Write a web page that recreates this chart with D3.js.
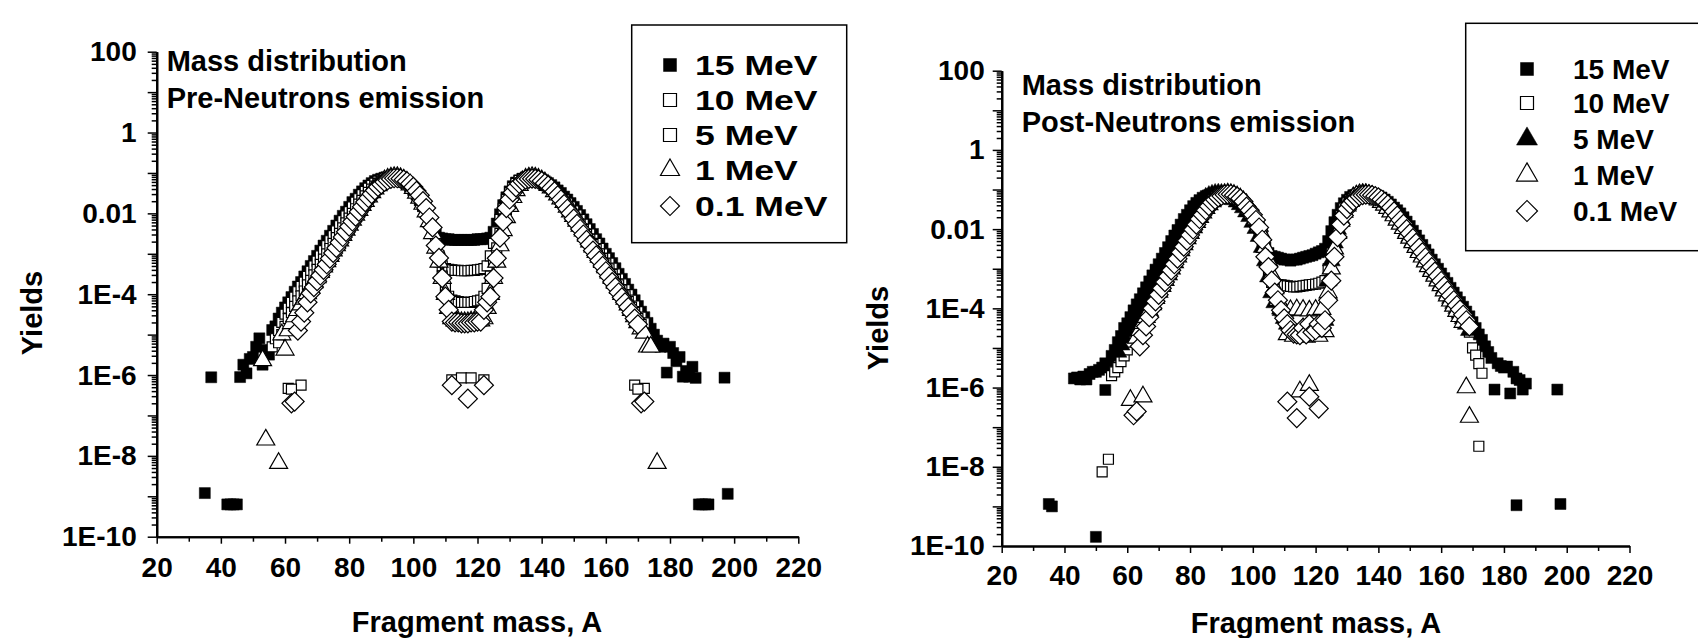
<!DOCTYPE html>
<html>
<head>
<meta charset="utf-8">
<script src="https://cdn.jsdelivr.net/npm/d3@7"></script>
<style>
  body { margin: 0; background: #fff; }
  text { font-family: "Liberation Sans", Arial, sans-serif; font-weight: bold; fill: #000; }
</style>
</head>
<body>
<svg id="chart" width="1698" height="638"></svg>
<script>
const energies = ["15 MeV", "10 MeV", "5 MeV", "1 MeV", "0.1 MeV"];
const xTicks = [20, 40, 60, 80, 100, 120, 140, 160, 180, 200, 220];
const xMinorTicks = [30, 50, 70, 90, 110, 130, 150, 170, 190, 210];
const yTicks = [1e-10, 1e-8, 1e-6, 1e-4, 1e-2, 1, 100];
const yTickLabels = ["1E-10", "1E-8", "1E-6", "1E-4", "0.01", "1", "100"];
const yOddDecades = [1e-9, 1e-7, 1e-5, 1e-3, 0.1, 10];

// pre-neutron emission, [mass A, yield]
const pre15 = [[35,1.2e-9],[37,8.8e-7],[42,6.3e-10],[43,6.3e-10],[44,6.3e-10],[45,6.3e-10],[46,8.9e-7],[47,1.8e-6],[48,1.1e-6],[49,2.5e-6],[50,2.8e-6],[51,5e-6],[52,8.1e-6],[53,1.8e-6],[54,4.2e-6],[55,3.2e-6],[56,1.3e-5],[57,1.6e-5],[58,2.5e-5],[59,3.5e-5],[60,4.7e-5],[61,6.3e-5],[62,8.5e-5],[63,1.15e-4],[64,1.55e-4],[65,2e-4],[66,2.75e-4],[67,3.7e-4],[68,5e-4],[69,6.6e-4],[70,8.9e-4],[71,1.2e-3],[72,1.6e-3],[73,2.1e-3],[74,2.8e-3],[75,3.7e-3],[76,5e-3],[77,6.6e-3],[78,8.7e-3],[79,1.1e-2],[80,1.45e-2],[81,1.9e-2],[82,2.3e-2],[83,2.9e-2],[84,3.5e-2],[85,4.2e-2],[86,4.9e-2],[87,5.6e-2],[88,6.3e-2],[89,6.8e-2],[90,7.2e-2],[91,7.6e-2],[92,7.8e-2],[93,7.8e-2],[94,7.6e-2],[95,7.2e-2],[96,6.8e-2],[97,6.2e-2],[98,5.4e-2],[99,4.6e-2],[100,3.7e-2],[101,2.9e-2],[102,2.1e-2],[103,1.5e-2],[104,1e-2],[105,6.6e-3],[106,4.2e-3],[107,3e-3],[108,2.5e-3],[109,2.4e-3],[110,2.3e-3],[111,2.3e-3],[112,2.2e-3],[113,2.2e-3],[114,2.2e-3],[115,2.2e-3],[116,2.2e-3],[117,2.2e-3],[118,2.2e-3],[119,2.2e-3],[120,2.3e-3],[121,2.3e-3],[122,2.3e-3],[123,2.4e-3],[124,2.5e-3],[125,3.5e-3],[126,5.6e-3],[127,9.5e-3],[128,1.6e-2],[129,2.5e-2],[130,3.5e-2],[131,4.7e-2],[132,5.8e-2],[133,6.6e-2],[134,7.2e-2],[135,7.6e-2],[136,7.8e-2],[137,7.8e-2],[138,7.6e-2],[139,7.2e-2],[140,6.8e-2],[141,6.2e-2],[142,5.6e-2],[143,5e-2],[144,4.4e-2],[145,3.7e-2],[146,3.2e-2],[147,2.6e-2],[148,2.2e-2],[149,1.8e-2],[150,1.45e-2],[151,1.15e-2],[152,9.1e-3],[153,7.1e-3],[154,5.4e-3],[155,4.1e-3],[156,3.1e-3],[157,2.3e-3],[158,1.8e-3],[159,1.35e-3],[160,1e-3],[161,7.8e-4],[162,5.9e-4],[163,4.4e-4],[164,3.2e-4],[165,2.4e-4],[166,1.8e-4],[167,1.3e-4],[168,9.8e-5],[169,7.1e-5],[170,5.1e-5],[171,3.7e-5],[172,2.7e-5],[173,1.95e-5],[174,1.4e-5],[175,1e-5],[176,7.1e-6],[177,5e-6],[178,6e-6],[179,1.15e-6],[180,5e-6],[181,3.5e-6],[182,2.2e-6],[183,2.8e-6],[184,9.1e-7],[185,1.26e-6],[186,9.1e-7],[187,1.6e-6],[188,8.5e-7],[189,6.3e-10],[190,6.3e-10],[191,6.3e-10],[192,6.3e-10],[197,8.6e-7],[198,1.15e-9]];
const pre10 = [[61,4.7e-7],[65,5.6e-7],[169,5.6e-7],[172,4.7e-7],[56,5e-6],[57,7.9e-6],[58,1.26e-5],[59,2e-5],[60,3.2e-5],[61,4.5e-5],[62,6.3e-5],[63,8.5e-5],[64,1.15e-4],[65,1.55e-4],[66,2e-4],[67,2.75e-4],[68,3.7e-4],[69,5e-4],[70,6.6e-4],[71,8.9e-4],[72,1.2e-3],[73,1.6e-3],[74,2.1e-3],[75,2.8e-3],[76,3.7e-3],[77,5e-3],[78,6.6e-3],[79,8.7e-3],[80,1.1e-2],[81,1.45e-2],[82,1.9e-2],[83,2.3e-2],[84,2.9e-2],[85,3.5e-2],[86,4.2e-2],[87,4.9e-2],[88,5.6e-2],[89,6.3e-2],[90,6.9e-2],[91,7.4e-2],[92,7.8e-2],[93,7.9e-2],[94,7.8e-2],[95,7.4e-2],[96,6.9e-2],[97,6.3e-2],[98,5.5e-2],[99,4.7e-2],[100,3.8e-2],[101,3e-2],[102,2.2e-2],[103,1.5e-2],[104,1e-2],[105,6.3e-3],[106,3.5e-3],[107,1.8e-3],[108,8.9e-4],[109,5e-4],[110,4.3e-4],[111,4.1e-4],[112,4e-4],[113,3.9e-4],[114,3.9e-4],[115,3.8e-4],[116,3.8e-4],[117,3.8e-4],[118,3.9e-4],[119,3.9e-4],[120,4e-4],[121,4.1e-4],[122,4.3e-4],[123,5e-4],[124,8.9e-4],[125,1.8e-3],[126,3.5e-3],[127,7.1e-3],[128,1.3e-2],[129,2.2e-2],[130,3.2e-2],[131,4.4e-2],[132,5.5e-2],[133,6.5e-2],[134,7.2e-2],[135,7.8e-2],[136,7.9e-2],[137,7.8e-2],[138,7.4e-2],[139,6.9e-2],[140,6.3e-2],[141,5.6e-2],[142,5e-2],[143,4.4e-2],[144,3.7e-2],[145,3.2e-2],[146,2.6e-2],[147,2.2e-2],[148,1.8e-2],[149,1.45e-2],[150,1.15e-2],[151,9.1e-3],[152,7.1e-3],[153,5.4e-3],[154,4.1e-3],[155,3.1e-3],[156,2.3e-3],[157,1.8e-3],[158,1.35e-3],[159,1e-3],[160,7.8e-4],[161,5.9e-4],[162,4.4e-4],[163,3.2e-4],[164,2.4e-4],[165,1.8e-4],[166,1.3e-4],[167,9.8e-5],[168,7.1e-5],[169,5.1e-5],[170,3.7e-5],[171,2.7e-5],[172,1.95e-5]];
const pre5 = [[62,4.5e-7],[170,4.5e-7],[112,7.6e-7],[115,8.5e-7],[118,8.5e-7],[122,7.6e-7],[58,6.3e-6],[59,1e-5],[60,1.6e-5],[61,2.5e-5],[62,3.5e-5],[63,5e-5],[64,6.8e-5],[65,9.1e-5],[66,1.2e-4],[67,1.7e-4],[68,2.2e-4],[69,3e-4],[70,4.1e-4],[71,5.5e-4],[72,7.4e-4],[73,1e-3],[74,1.35e-3],[75,1.8e-3],[76,2.5e-3],[77,3.2e-3],[78,4.4e-3],[79,5.8e-3],[80,7.6e-3],[81,1e-2],[82,1.3e-2],[83,1.7e-2],[84,2.1e-2],[85,2.7e-2],[86,3.3e-2],[87,4e-2],[88,4.7e-2],[89,5.5e-2],[90,6.3e-2],[91,6.9e-2],[92,7.4e-2],[93,7.8e-2],[94,7.8e-2],[95,7.6e-2],[96,7.1e-2],[97,6.5e-2],[98,5.6e-2],[99,4.8e-2],[100,3.9e-2],[101,3e-2],[102,2.2e-2],[103,1.55e-2],[104,1e-2],[105,6e-3],[106,3.2e-3],[107,1.4e-3],[108,6.3e-4],[109,2.8e-4],[110,1.4e-4],[111,8.9e-5],[112,7.1e-5],[113,6.8e-5],[114,6.6e-5],[115,6.3e-5],[116,6.3e-5],[117,6.3e-5],[118,6.3e-5],[119,6.6e-5],[120,6.8e-5],[121,7.1e-5],[122,8.9e-5],[123,1.4e-4],[124,2.8e-4],[125,6.3e-4],[126,1.4e-3],[127,3.2e-3],[128,6.6e-3],[129,1.26e-2],[130,2.1e-2],[131,3.2e-2],[132,4.3e-2],[133,5.4e-2],[134,6.3e-2],[135,7.1e-2],[136,7.6e-2],[137,7.8e-2],[138,7.6e-2],[139,7.1e-2],[140,6.5e-2],[141,5.8e-2],[142,5e-2],[143,4.3e-2],[144,3.5e-2],[145,3e-2],[146,2.4e-2],[147,1.9e-2],[148,1.5e-2],[149,1.2e-2],[150,9.1e-3],[151,6.9e-3],[152,5.2e-3],[153,4e-3],[154,3e-3],[155,2.3e-3],[156,1.7e-3],[157,1.3e-3],[158,1e-3],[159,7.6e-4],[160,5.6e-4],[161,4.2e-4],[162,3.1e-4],[163,2.3e-4],[164,1.7e-4],[165,1.26e-4],[166,9.1e-5],[167,6.6e-5],[168,4.8e-5],[169,3.5e-5],[170,2.5e-5],[171,1.8e-5]];
const pre1 = [[53,2.3e-6],[54,2.5e-8],[58,6.6e-9],[59,1e-5],[60,4.2e-6],[61,1.26e-5],[62,1.9e-5],[63,2.8e-5],[64,4e-5],[65,5.5e-5],[66,7.6e-5],[67,1.05e-4],[68,1.45e-4],[69,1.95e-4],[70,2.6e-4],[71,3.5e-4],[72,4.8e-4],[73,6.5e-4],[74,8.7e-4],[75,1.2e-3],[76,1.6e-3],[77,2.1e-3],[78,2.9e-3],[79,3.9e-3],[80,5.2e-3],[81,6.9e-3],[82,9.1e-3],[83,1.2e-2],[84,1.6e-2],[85,2e-2],[86,2.6e-2],[87,3.3e-2],[88,4.1e-2],[89,4.9e-2],[90,5.8e-2],[91,6.5e-2],[92,7.1e-2],[93,7.6e-2],[94,7.8e-2],[95,7.8e-2],[96,7.4e-2],[97,6.8e-2],[98,6e-2],[99,5.1e-2],[100,4.2e-2],[101,3.2e-2],[102,2.4e-2],[103,1.7e-2],[104,1.1e-2],[105,6.3e-3],[106,3.2e-3],[107,1.4e-3],[108,6.3e-4],[109,2.5e-4],[110,1e-4],[111,4.5e-5],[112,2.5e-5],[113,2.2e-5],[114,2.1e-5],[115,2e-5],[116,2e-5],[117,2e-5],[118,2.1e-5],[119,2.1e-5],[120,2.2e-5],[121,2.2e-5],[122,2.5e-5],[123,4.5e-5],[124,1e-4],[125,2.5e-4],[126,6.3e-4],[127,1.6e-3],[128,3.8e-3],[129,7.9e-3],[130,1.5e-2],[131,2.5e-2],[132,3.7e-2],[133,5e-2],[134,6.2e-2],[135,7.1e-2],[136,7.6e-2],[137,7.8e-2],[138,7.6e-2],[139,7.1e-2],[140,6.5e-2],[141,5.8e-2],[142,5e-2],[143,4.3e-2],[144,3.5e-2],[145,2.9e-2],[146,2.3e-2],[147,1.9e-2],[148,1.45e-2],[149,1.1e-2],[150,8.5e-3],[151,6.5e-3],[152,4.9e-3],[153,3.7e-3],[154,2.75e-3],[155,2e-3],[156,1.5e-3],[157,1.1e-3],[158,8.3e-4],[159,6.2e-4],[160,4.6e-4],[161,3.4e-4],[162,2.5e-4],[163,1.9e-4],[164,1.4e-4],[165,1e-4],[166,7.6e-5],[167,5.5e-5],[168,4e-5],[169,2.8e-5],[170,2e-5],[171,1.4e-5],[172,1.1e-5],[173,5e-6],[174,5e-6],[176,6.6e-9]];
const pre01 = [[62,2e-7],[63,2.2e-7],[112,5.6e-7],[117,2.6e-7],[122,5.6e-7],[171,2e-7],[172,2.2e-7],[64,1.26e-5],[65,2.1e-5],[66,3.5e-5],[67,6.3e-5],[68,1.05e-4],[69,1.5e-4],[70,2.1e-4],[71,2.9e-4],[72,4e-4],[73,5.5e-4],[74,7.6e-4],[75,1.05e-3],[76,1.4e-3],[77,1.9e-3],[78,2.6e-3],[79,3.5e-3],[80,4.7e-3],[81,6.3e-3],[82,8.3e-3],[83,1.1e-2],[84,1.45e-2],[85,1.9e-2],[86,2.4e-2],[87,3e-2],[88,3.7e-2],[89,4.5e-2],[90,5.2e-2],[91,6e-2],[92,6.6e-2],[93,7.1e-2],[94,7.4e-2],[95,7.4e-2],[96,7.2e-2],[97,6.8e-2],[98,6.2e-2],[99,5.4e-2],[100,4.5e-2],[101,3.6e-2],[102,2.8e-2],[103,2e-2],[104,1.35e-2],[105,7.9e-3],[106,4.5e-3],[107,1.6e-3],[108,7.9e-4],[109,2.5e-4],[110,8.7e-5],[111,4.1e-5],[112,2.1e-5],[113,2e-5],[114,2e-5],[115,1.9e-5],[116,1.9e-5],[117,1.9e-5],[118,2e-5],[119,2e-5],[120,2.1e-5],[121,2.1e-5],[122,4.1e-5],[123,6.3e-5],[124,8.7e-5],[125,2.5e-4],[126,7.8e-4],[127,2.5e-3],[128,6.3e-3],[129,1.35e-2],[130,2.2e-2],[131,3.3e-2],[132,4.4e-2],[133,5.4e-2],[134,6.2e-2],[135,6.8e-2],[136,7.1e-2],[137,7.2e-2],[138,7.1e-2],[139,6.8e-2],[140,6.3e-2],[141,5.6e-2],[142,4.9e-2],[143,4.2e-2],[144,3.5e-2],[145,2.8e-2],[146,2.2e-2],[147,1.7e-2],[148,1.3e-2],[149,1e-2],[150,7.4e-3],[151,5.5e-3],[152,4.1e-3],[153,3e-3],[154,2.2e-3],[155,1.7e-3],[156,1.2e-3],[157,9.1e-4],[158,6.8e-4],[159,5e-4],[160,3.7e-4],[161,2.75e-4],[162,2e-4],[163,1.5e-4],[164,1.1e-4],[165,8.3e-5],[166,6.3e-5],[167,4.8e-5],[168,3.5e-5],[169,2.5e-5],[170,1.8e-5]];

// post-neutron emission, [mass A, yield]
const post15 = [[35,1.15e-9],[36,1e-9],[50,1.7e-10],[53,8.7e-7],[184,1.07e-9],[198,1.15e-9],[43,1.7e-6],[44,1.8e-6],[45,1.6e-6],[46,1.9e-6],[47,1.6e-6],[48,2.2e-6],[49,2.5e-6],[50,2.5e-6],[51,2.8e-6],[52,3.2e-6],[53,4.1e-6],[54,3.5e-6],[55,6.3e-6],[56,8.9e-6],[57,1.4e-5],[58,2e-5],[59,3.2e-5],[60,4.2e-5],[61,6e-5],[62,8.9e-5],[63,1.26e-4],[64,1.7e-4],[65,2.4e-4],[66,3.4e-4],[67,4.8e-4],[68,6.8e-4],[69,9.5e-4],[70,1.3e-3],[71,1.8e-3],[72,2.5e-3],[73,3.5e-3],[74,5e-3],[75,6.9e-3],[76,9.5e-3],[77,1.3e-2],[78,1.8e-2],[79,2.3e-2],[80,3e-2],[81,3.8e-2],[82,4.6e-2],[83,5.4e-2],[84,6.2e-2],[85,6.8e-2],[86,7.2e-2],[87,7.6e-2],[88,7.9e-2],[89,8.1e-2],[90,8.1e-2],[91,7.9e-2],[92,7.6e-2],[93,7.1e-2],[94,6.5e-2],[95,5.8e-2],[96,5e-2],[97,4.4e-2],[98,3.6e-2],[99,2.9e-2],[100,2.2e-2],[101,1.6e-2],[102,1.05e-2],[103,6.3e-3],[104,3.5e-3],[105,2.5e-3],[106,2.1e-3],[107,2e-3],[108,1.9e-3],[109,1.8e-3],[110,1.7e-3],[111,1.7e-3],[112,1.6e-3],[113,1.7e-3],[114,1.7e-3],[115,1.8e-3],[116,1.9e-3],[117,2e-3],[118,2.1e-3],[119,2.2e-3],[120,2.4e-3],[121,2.6e-3],[122,2.8e-3],[123,3.2e-3],[124,5e-3],[125,8.9e-3],[126,1.5e-2],[127,2.3e-2],[128,3.4e-2],[129,4.5e-2],[130,5.5e-2],[131,6.5e-2],[132,7.2e-2],[133,7.4e-2],[134,7.8e-2],[135,7.9e-2],[136,7.9e-2],[137,7.9e-2],[138,7.8e-2],[139,7.4e-2],[140,6.9e-2],[141,6.3e-2],[142,5.6e-2],[143,4.9e-2],[144,4.2e-2],[145,3.5e-2],[146,3e-2],[147,2.5e-2],[148,2e-2],[149,1.55e-2],[150,1.2e-2],[151,9.1e-3],[152,6.9e-3],[153,5.2e-3],[154,4e-3],[155,3e-3],[156,2.3e-3],[157,1.7e-3],[158,1.3e-3],[159,1e-3],[160,7.6e-4],[161,5.8e-4],[162,4.4e-4],[163,3.3e-4],[164,2.5e-4],[165,1.9e-4],[166,1.45e-4],[167,1.1e-4],[168,8.3e-5],[169,6.3e-5],[170,4.5e-5],[171,3.2e-5],[172,2.2e-5],[173,1.6e-5],[174,1.1e-5],[175,7.9e-6],[176,5.6e-6],[177,8.9e-7],[178,4.1e-6],[179,3.5e-6],[180,3.2e-6],[181,3.4e-6],[182,7.1e-7],[183,2.5e-6],[184,1.7e-6],[185,1.55e-6],[186,8.9e-7],[187,1.26e-6],[197,8.9e-7]];
const post10 = [[52,7.4e-9],[54,1.55e-8],[172,3.3e-8],[55,2e-6],[56,2.5e-6],[57,3.2e-6],[58,4.5e-6],[59,6.3e-6],[60,8.9e-6],[61,1.4e-5],[62,2e-5],[63,2.8e-5],[64,4e-5],[65,5.6e-5],[66,7.9e-5],[67,1.1e-4],[68,1.6e-4],[69,2.2e-4],[70,3.2e-4],[71,4.5e-4],[72,6.3e-4],[73,8.9e-4],[74,1.26e-3],[75,1.8e-3],[76,2.5e-3],[77,3.5e-3],[78,5e-3],[79,6.9e-3],[80,9.5e-3],[81,1.3e-2],[82,1.7e-2],[83,2.3e-2],[84,3e-2],[85,3.7e-2],[86,4.6e-2],[87,5.4e-2],[88,6.2e-2],[89,6.9e-2],[90,7.4e-2],[91,7.8e-2],[92,7.8e-2],[93,7.6e-2],[94,7.2e-2],[95,6.6e-2],[96,5.8e-2],[97,4.8e-2],[98,3.8e-2],[99,2.9e-2],[100,2.1e-2],[101,1.4e-2],[102,8.9e-3],[103,5e-3],[104,2.2e-3],[105,8.9e-4],[106,4.5e-4],[107,4.2e-4],[108,4e-4],[109,3.9e-4],[110,3.8e-4],[111,3.7e-4],[112,3.6e-4],[113,3.5e-4],[114,3.5e-4],[115,3.6e-4],[116,3.7e-4],[117,3.8e-4],[118,3.9e-4],[119,4e-4],[120,4.1e-4],[121,4.3e-4],[122,4.6e-4],[123,5e-4],[124,1e-3],[125,2.5e-3],[126,6.3e-3],[127,1.26e-2],[128,2.2e-2],[129,3.4e-2],[130,4.6e-2],[131,5.6e-2],[132,6.6e-2],[133,7.2e-2],[134,7.6e-2],[135,7.8e-2],[136,7.6e-2],[137,7.4e-2],[138,7.1e-2],[139,6.6e-2],[140,6e-2],[141,5.4e-2],[142,4.7e-2],[143,4e-2],[144,3.3e-2],[145,2.75e-2],[146,2.2e-2],[147,1.8e-2],[148,1.4e-2],[149,1.1e-2],[150,8.5e-3],[151,6.5e-3],[152,4.9e-3],[153,3.7e-3],[154,2.8e-3],[155,2.1e-3],[156,1.6e-3],[157,1.2e-3],[158,9.3e-4],[159,7.1e-4],[160,5.4e-4],[161,4.1e-4],[162,3.1e-4],[163,2.3e-4],[164,1.8e-4],[165,1.35e-4],[166,1e-4],[167,7.8e-5],[168,5.6e-5],[169,2.5e-5],[170,1e-5],[171,6.6e-6],[172,4e-6],[173,2.3e-6]];
const post5 = [[57,7.9e-6],[58,1.2e-5],[59,1.8e-5],[60,2.6e-5],[61,3.8e-5],[62,5.5e-5],[63,7.9e-5],[64,1.1e-4],[65,1.6e-4],[66,2.2e-4],[67,3.2e-4],[68,4.5e-4],[69,6.3e-4],[70,8.9e-4],[71,1.26e-3],[72,1.8e-3],[73,2.5e-3],[74,3.5e-3],[75,4.9e-3],[76,6.8e-3],[77,9.3e-3],[78,1.26e-2],[79,1.7e-2],[80,2.2e-2],[81,2.9e-2],[82,3.6e-2],[83,4.5e-2],[84,5.4e-2],[85,6.2e-2],[86,6.9e-2],[87,7.4e-2],[88,7.8e-2],[89,7.9e-2],[90,7.8e-2],[91,7.4e-2],[92,6.9e-2],[93,6.3e-2],[94,5.6e-2],[95,4.9e-2],[96,4.2e-2],[97,3.5e-2],[98,2.75e-2],[99,2.1e-2],[100,1.5e-2],[101,1.05e-2],[102,6.6e-3],[103,3.5e-3],[104,1.6e-3],[105,6.3e-4],[106,2.5e-4],[107,1.4e-4],[108,1.6e-4],[109,8.9e-5],[110,5.6e-5],[111,4e-5],[112,2.8e-5],[113,2.3e-5],[114,2.2e-5],[115,2.1e-5],[116,3.2e-5],[117,2.2e-5],[118,4e-5],[119,2.5e-5],[120,2.8e-5],[121,4e-5],[122,3.2e-5],[123,5e-5],[124,5e-4],[125,1.6e-3],[126,4.5e-3],[127,1e-2],[128,1.9e-2],[129,3e-2],[130,4.3e-2],[131,5.5e-2],[132,6.5e-2],[133,7.2e-2],[134,7.6e-2],[135,7.8e-2],[136,7.8e-2],[137,7.4e-2],[138,6.9e-2],[139,6.3e-2],[140,5.6e-2],[141,4.9e-2],[142,4.2e-2],[143,3.5e-2],[144,2.8e-2],[145,2.3e-2],[146,1.8e-2],[147,1.4e-2],[148,1.1e-2],[149,8.5e-3],[150,6.5e-3],[151,4.9e-3],[152,3.7e-3],[153,2.8e-3],[154,2.1e-3],[155,1.6e-3],[156,1.2e-3],[157,9.3e-4],[158,7.1e-4],[159,5.4e-4],[160,4.1e-4],[161,3.1e-4],[162,2.3e-4],[163,1.8e-4],[164,1.35e-4],[165,1e-4],[166,7.6e-5],[167,5.5e-5],[168,4e-5],[169,2.8e-5]];
const post1 = [[61,4.8e-7],[65,5.9e-7],[115,7.9e-7],[118,1.15e-6],[168,1e-6],[169,1.8e-7],[63,1.8e-5],[64,2.8e-5],[65,4.2e-5],[66,6e-5],[67,8.7e-5],[68,1.26e-4],[69,1.8e-4],[70,2.6e-4],[71,3.6e-4],[72,5.1e-4],[73,7.2e-4],[74,1e-3],[75,1.45e-3],[76,2e-3],[77,2.9e-3],[78,4.1e-3],[79,5.8e-3],[80,7.9e-3],[81,1.1e-2],[82,1.5e-2],[83,2e-2],[84,2.6e-2],[85,3.4e-2],[86,4.2e-2],[87,5e-2],[88,5.9e-2],[89,6.6e-2],[90,7.2e-2],[91,7.6e-2],[92,7.8e-2],[93,7.6e-2],[94,7.2e-2],[95,6.6e-2],[96,5.9e-2],[97,5e-2],[98,4.2e-2],[99,3.3e-2],[100,2.5e-2],[101,1.8e-2],[102,1.2e-2],[103,7.1e-3],[104,3.5e-3],[105,1.6e-3],[106,7.1e-4],[107,3.2e-4],[108,1.6e-4],[109,1e-4],[110,8.7e-5],[111,2.2e-5],[112,8.9e-5],[113,2e-5],[114,9.3e-5],[115,2.2e-5],[116,9.1e-5],[117,1.9e-5],[118,8.7e-5],[119,2.3e-5],[120,9.1e-5],[121,2e-5],[122,9.5e-5],[123,2.6e-5],[124,2.5e-4],[125,1e-3],[126,3.2e-3],[127,7.9e-3],[128,1.6e-2],[129,2.7e-2],[130,3.9e-2],[131,5.1e-2],[132,6.2e-2],[133,6.9e-2],[134,7.4e-2],[135,7.6e-2],[136,7.6e-2],[137,7.2e-2],[138,6.8e-2],[139,6.2e-2],[140,5.5e-2],[141,4.8e-2],[142,4.1e-2],[143,3.4e-2],[144,2.75e-2],[145,2.2e-2],[146,1.7e-2],[147,1.35e-2],[148,1.05e-2],[149,7.9e-3],[150,6e-3],[151,4.6e-3],[152,3.5e-3],[153,2.6e-3],[154,2e-3],[155,1.5e-3],[156,1.15e-3],[157,8.7e-4],[158,6.6e-4],[159,5e-4],[160,3.8e-4],[161,2.8e-4],[162,2.1e-4],[163,1.55e-4],[164,1.15e-4],[165,8.5e-5],[166,6.3e-5],[167,4.5e-5]];
const post01 = [[62,2e-7],[63,2.5e-7],[111,4.4e-7],[114,1.7e-7],[118,5.9e-7],[121,2.95e-7],[64,1.1e-5],[65,2.1e-5],[66,3.5e-5],[67,6e-5],[68,1e-4],[69,1.5e-4],[70,2.2e-4],[71,3.2e-4],[72,4.6e-4],[73,6.5e-4],[74,9.1e-4],[75,1.3e-3],[76,1.8e-3],[77,2.6e-3],[78,3.6e-3],[79,5.1e-3],[80,7.1e-3],[81,9.8e-3],[82,1.3e-2],[83,1.8e-2],[84,2.3e-2],[85,3e-2],[86,3.8e-2],[87,4.7e-2],[88,5.5e-2],[89,6.3e-2],[90,6.9e-2],[91,7.4e-2],[92,7.6e-2],[93,7.6e-2],[94,7.2e-2],[95,6.6e-2],[96,5.9e-2],[97,5e-2],[98,3.7e-2],[99,3e-2],[100,2.3e-2],[101,1.7e-2],[102,1.1e-2],[103,5.4e-3],[104,2e-3],[105,1.1e-3],[106,5e-4],[107,2.5e-4],[108,1.6e-4],[109,8.9e-5],[110,5.6e-5],[111,4e-5],[112,2.8e-5],[113,2.3e-5],[114,2.2e-5],[115,2.1e-5],[116,3.2e-5],[117,2.2e-5],[118,4e-5],[119,2.5e-5],[120,2.8e-5],[121,4e-5],[122,3.2e-5],[123,5e-5],[124,1.6e-4],[125,5e-4],[126,2e-3],[127,6.3e-3],[128,1.3e-2],[129,2.2e-2],[130,3.2e-2],[131,4.2e-2],[132,5.1e-2],[133,6e-2],[134,6.8e-2],[135,7.2e-2],[136,7.4e-2],[137,7.4e-2],[138,7.2e-2],[139,6.8e-2],[140,6.3e-2],[141,5.6e-2],[142,4.9e-2],[143,4.2e-2],[144,3.5e-2],[145,2.8e-2],[146,2.2e-2],[147,1.7e-2],[148,1.35e-2],[149,1e-2],[150,7.8e-3],[151,5.9e-3],[152,4.5e-3],[153,3.4e-3],[154,2.6e-3],[155,1.95e-3],[156,1.5e-3],[157,1.1e-3],[158,8.5e-4],[159,6.5e-4],[160,4.9e-4],[161,3.7e-4],[162,2.8e-4],[163,2.1e-4],[164,1.6e-4],[165,1.2e-4],[166,9.3e-5],[167,6.9e-5],[168,5e-5],[169,3.5e-5]];

const panels = [
  {
    series: [pre15, pre10, pre5, pre1, pre01],
    kinds: ["sqFill", "sqOpen", "sqOpen", "triOpen", "diaOpen"],
    title: ["Mass distribution", "Pre-Neutrons emission"],
    xRange: [156.7, 798.3], yRange: [536.7, 51.7],
    titleX: 166.7, titleY: [70.5, 108.3],
    yPad: 11, xPad: 13,
    yTitle: [42, 313], xTitle: [477, 632],
    legend: { x: 631.7, y: 25, w: 215, h: 217.7, symX: 670, textX: 695, rows: [65, 100, 135, 170, 206], big: 19, stretch: 1.27 }
  },
  {
    series: [post15, post10, post5, post1, post01],
    kinds: ["sqFill", "sqOpen", "triFill", "triOpen", "diaOpen"],
    title: ["Mass distribution", "Post-Neutrons emission"],
    xRange: [1001.7, 1629.5], yRange: [546, 70.7],
    titleX: 1021.7, titleY: [95, 131.7],
    yPad: 8, xPad: 12,
    yTitle: [888, 328], xTitle: [1316, 633],
    legend: { x: 1465.7, y: 23.3, w: 260, h: 227.4, symX: 1527, textX: 1573, rows: [69, 103, 139, 175, 211], big: 21, stretch: 1 }
  }
];

const svg = d3.select("#chart");

function markPath(kind, w) {
  if (kind.startsWith("sq")) return d3.symbol(d3.symbolSquare, w * w)();
  if (kind.startsWith("tri")) return d3.symbol(d3.symbolTriangle, Math.sqrt(3) / 4 * w * w)();
  return d3.symbol(d3.symbolSquare, w * w / 2)();
}
function markStyle(sel, kind) {
  const filled = kind.endsWith("Fill");
  sel.attr("fill", filled ? "#000" : "#fff")
     .attr("stroke", "#000")
     .attr("stroke-width", filled ? 0.5 : 1.2);
}
const plotSize = { sqFill: 11, sqOpen: 10, triFill: 18, triOpen: 18, diaOpen: 19 };

panels.forEach(p => {
  const x = d3.scaleLinear().domain([20, 220]).range(p.xRange);
  const y = d3.scaleLog().domain([1e-10, 100]).range(p.yRange);
  const g = svg.append("g");

  // y axis: labelled ticks, unlabelled decades, minor ticks
  const yMinor = [];
  d3.range(-10, 2).forEach(e => d3.range(2, 10).forEach(k => yMinor.push(k * Math.pow(10, e))));
  const yAx = g.append("g").attr("transform", `translate(${p.xRange[0]},0)`);
  yAx.call(d3.axisLeft(y).tickValues(yMinor).tickSize(5).tickSizeOuter(0).tickFormat(""));
  yAx.append("g").call(d3.axisLeft(y).tickValues(yOddDecades).tickSize(9).tickSizeOuter(0).tickFormat(""));
  yAx.append("g").call(d3.axisLeft(y).tickValues(yTicks).tickSize(9).tickSizeOuter(0).tickPadding(p.yPad)
      .tickFormat((d, i) => yTickLabels[i]));

  const xAx = g.append("g").attr("transform", `translate(0,${p.yRange[0]})`);
  xAx.call(d3.axisBottom(x).tickValues(xMinorTicks).tickSize(5).tickSizeOuter(0).tickFormat(""));
  xAx.append("g").call(d3.axisBottom(x).tickValues(xTicks).tickSize(7).tickSizeOuter(0).tickPadding(p.xPad)
      .tickFormat(d3.format("d")));

  g.selectAll(".domain").attr("stroke", "#000").attr("stroke-width", 2);
  g.selectAll(".tick line").attr("stroke", "#000").attr("stroke-width", 1.5);
  g.selectAll(".tick text").attr("font-size", 28).attr("font-family", null);

  // data, 15 MeV at the back, 0.1 MeV on top
  p.series.forEach((data, si) => {
    const kind = p.kinds[si];
    const path = markPath(kind, plotSize[kind]);
    g.append("g").selectAll("path")
      .data(data)
      .enter()
      .append("path")
      .attr("d", path)
      .attr("transform", d => `translate(${x(d[0])},${y(d[1])})` + (kind === "diaOpen" ? " rotate(45)" : ""))
      .call(markStyle, kind);
  });

  // titles
  p.title.forEach((t, i) => {
    g.append("text").attr("x", p.titleX).attr("y", p.titleY[i]).attr("font-size", 29).text(t);
  });
  g.append("text")
    .attr("transform", `translate(${p.yTitle[0]},${p.yTitle[1]}) rotate(-90)`)
    .attr("text-anchor", "middle").attr("font-size", 29).text("Yields");
  g.append("text").attr("x", p.xTitle[0]).attr("y", p.xTitle[1])
    .attr("text-anchor", "middle").attr("font-size", 29).text("Fragment mass, A");

  // legend
  const L = p.legend;
  g.append("rect").attr("x", L.x).attr("y", L.y).attr("width", L.w).attr("height", L.h)
    .attr("fill", "none").attr("stroke", "#000").attr("stroke-width", 1.5);
  energies.forEach((name, i) => {
    const kind = p.kinds[i];
    const w = kind.startsWith("sq") ? 13 : L.big;
    g.append("path")
      .attr("d", markPath(kind, w))
      .attr("transform", `translate(${L.symX},${L.rows[i]})` + (kind === "diaOpen" ? " rotate(45)" : ""))
      .call(markStyle, kind);
    g.append("text")
      .attr("transform", `translate(${L.textX},${L.rows[i] + 10}) scale(${L.stretch},1)`)
      .attr("font-size", 28).text(name);
  });
});
</script>
</body>
</html>
